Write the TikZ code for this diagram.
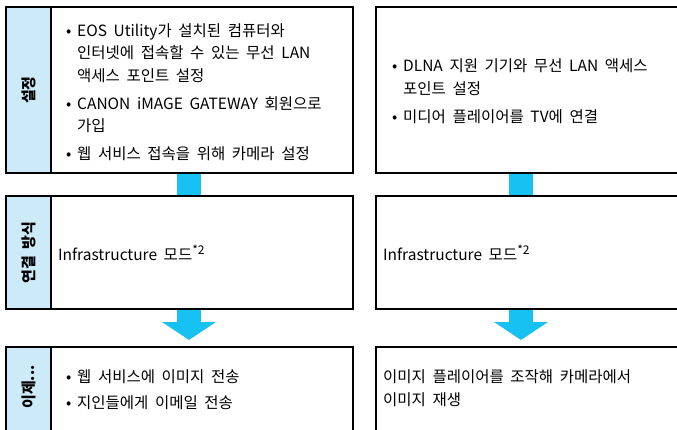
\documentclass[tikz,border=0pt]{standalone}
\usepackage{fontspec}
\setmainfont{Noto Sans CJK KR}[WordSpace=1.9]
\usetikzlibrary{arrows.meta}
\definecolor{barblue}{RGB}{23,194,242}
\definecolor{tagblue}{RGB}{205,234,248}
\newcommand{\bul}{\makebox[11pt][l]{\textbullet}}
\newcommand{\ind}{\hspace*{11pt}}
\newcommand{\fnmark}{\raisebox{5.5pt}{\fontsize{12}{12}\selectfont *2}}

\begin{document}
\begin{tikzpicture}[x=1pt,y=-1pt]
\tikzstyle{tag}=[draw,line width=2.5pt,fill=tagblue,inner sep=0pt,outer sep=0pt,anchor=north west,minimum width=45pt]
\tikzstyle{cell}=[draw,line width=2.5pt,inner sep=0pt,outer sep=0pt,anchor=north west]
\tikzstyle{txt}=[anchor=west,align=left,inner sep=0pt,font=\fontsize{15.5}{22.5}\selectfont]
\tikzstyle{tagtxt}=[rotate=90,inner sep=0pt,font=\fontsize{15}{18}\selectfont\bfseries]
\tikzstyle{bar}=[barblue,line width=24pt,shorten <=1.25pt,shorten >=1.25pt]
\tikzstyle{arr}=[barblue,line width=24pt,-{Triangle[width=53pt,length=18pt]},shorten <=1.25pt,shorten >=7pt]
\useasboundingbox (0,0) rectangle (677,429);
\clip (0,0) rectangle (677,429);
\node[tag,minimum height=166pt] (setTag) at (6,7) {};
\node[cell,minimum width=302pt,minimum height=166pt] (setL) at (51,7) {};
\node[cell,minimum width=330pt,minimum height=166pt] (setR) at (376,7) {};
\node[tag,minimum height=113pt] (modeTag) at (6,196) {};
\node[cell,minimum width=302pt,minimum height=113pt] (modeL) at (51,196) {};
\node[cell,minimum width=330pt,minimum height=113pt] (modeR) at (376,196) {};
\node[tag,minimum height=120pt] (nowTag) at (6,347) {};
\node[cell,minimum width=302pt,minimum height=120pt] (nowL) at (51,347) {};
\node[cell,minimum width=330pt,minimum height=120pt] (nowR) at (376,347) {};
\node[tagtxt] (setLbl) at (setTag.center) {설정};
\node[tagtxt] (modeLbl) at (modeTag.center) {연결 방식};
\node[tagtxt] (nowLbl) at (28.5,387) {이제...};
\node[txt] (setLtxt) at (66,92) {\bul EOS Utility가 설치된 컴퓨터와\\ \ind 인터넷에 접속할 수 있는 무선 LAN\\ \ind 액세스 포인트 설정\\[5.5pt] \bul CANON iMAGE GATEWAY 회원으로\\ \ind 가입\\[5.5pt] \bul 웹 서비스 접속을 위해 카메라 설정};
\node[txt] (setRtxt) at (392,91) {\bul DLNA 지원 기기와 무선 LAN 액세스\\ \ind 포인트 설정\\[5.5pt] \bul 미디어 플레이어를 TV에 연결};
\node[txt] (modeLtxt) at (58,253) {Infrastructure 모드\fnmark};
\node[txt] (modeRtxt) at (383,253) {Infrastructure 모드\fnmark};
\node[txt] (nowLtxt) at (66,390) {\bul 웹 서비스에 이미지 전송\\[3.5pt] \bul 지인들에게 이메일 전송};
\node[txt] (nowRtxt) at (383,388) {이미지 플레이어를 조작해 카메라에서\\ 이미지 재생};
\coordinate (colL) at (189,0);
\coordinate (colR) at (521,0);
\draw[bar] (setL.south -| colL) -- (modeL.north -| colL);
\draw[bar] (setR.south -| colR) -- (modeR.north -| colR);
\draw[arr] (modeL.south -| colL) -- (nowL.north -| colL);
\draw[arr] (modeR.south -| colR) -- (nowR.north -| colR);
\end{tikzpicture}
\end{document}
